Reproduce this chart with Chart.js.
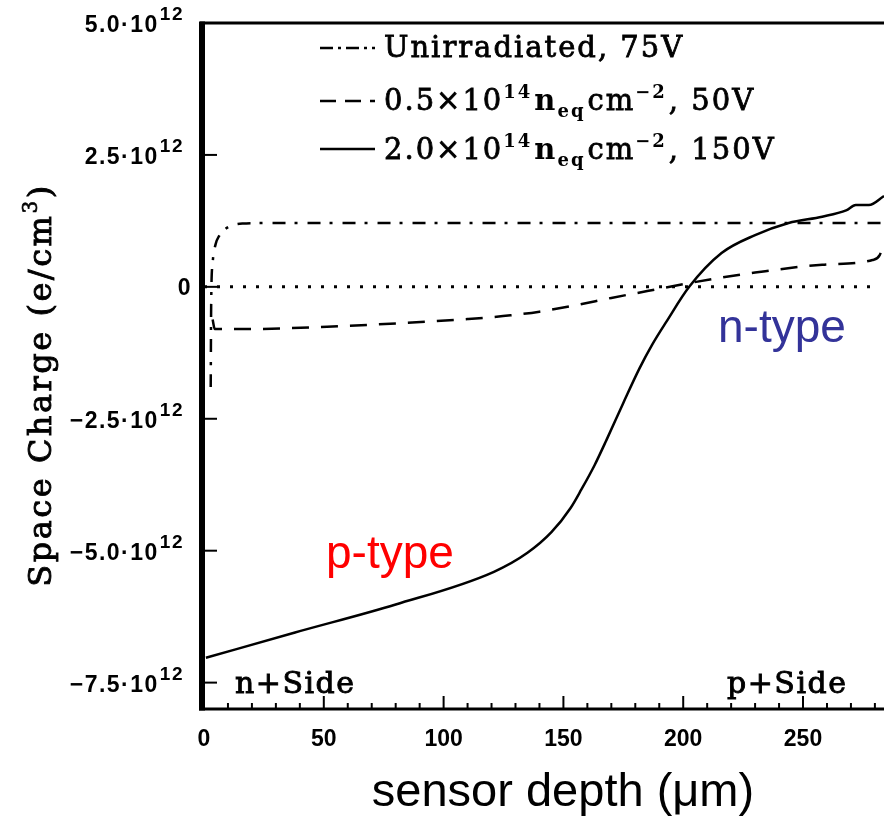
<!DOCTYPE html>
<html>
<head>
<meta charset="utf-8">
<script src="https://cdn.jsdelivr.net/npm/chart.js@4.4.0/dist/chart.umd.min.js"></script>
<style>
html,body{margin:0;padding:0;background:#fff;}
</style>
</head>
<body>
<canvas id="spaceChart" width="884" height="820"></canvas>
<script>
// depth in um, space charge in units of 1e12 e/cm3
var unirrDepth  = [2.8, 3.0, 3.6, 4.8, 6.5, 9, 12, 16, 30, 100, 200, 283.8];
var unirrCharge = [-1.9, -0.3, 0.45, 0.8, 0.98, 1.1, 1.17, 1.2, 1.21, 1.21, 1.21, 1.21];

var lowDepth  = [3.6, 4.5, 17, 59, 93, 110, 128, 140, 155, 170, 185, 200, 215, 230, 258, 279, 282, 283.8];
var lowCharge = [-0.62, -0.8, -0.8, -0.74, -0.66, -0.61, -0.54, -0.47, -0.35, -0.21, -0.08, 0.05, 0.17, 0.27, 0.42, 0.51, 0.6, 0.85];

var highDepth  = [0.8, 38, 80, 121, 135, 145, 153, 157.5, 163, 168, 175, 181.7, 187, 193, 202.5, 216, 230, 244, 258, 268, 272, 277.5, 283.8];
var highCharge = [-7.03, -6.55, -6.02, -5.40, -5.04, -4.65, -4.19, -3.84, -3.38, -2.9, -2.2, -1.55, -1.1, -0.66, 0, 0.64, 0.98, 1.21, 1.33, 1.45, 1.55, 1.55, 1.72];

var zeroDepth  = [0, 278];
var zeroCharge = [0, 0];

var xTickVals = [0, 50, 100, 150, 200, 250];
var xMinorVals = [0,10,20,30,40,50,60,70,80,90,100,110,120,130,140,150,160,170,180,190,200,210,220,230,240,250,260,270,280];
var yTickVals = [5, 2.5, 0, -2.5, -5, -7.5];
var yTickBase = ['5.0\u00b710', '2.5\u00b710', '0', '\u22122.5\u00b710', '\u22125.0\u00b710', '\u22127.5\u00b710'];
var yTickExp  = ['12', '12', '', '12', '12', '12'];

var legendRows = [
  [{t:'Unirradiated, 75V'}],
  [{t:'0.5\u00d710'},{t:'14',sup:true},{t:'n',bold:true},{t:'eq',sub:true},{t:'cm'},{t:'\u22122',sup:true},{t:', 50V'}],
  [{t:'2.0\u00d710'},{t:'14',sup:true},{t:'n',bold:true},{t:'eq',sub:true},{t:'cm'},{t:'\u22122',sup:true},{t:', 150V'}]
];
var legendDash = [[13,5,3,5], [16,9], []];

function pts(xs, ys) {
  return xs.map(function(x, i){ return {x: x, y: ys[i]}; });
}

var serif = '"DejaVu Serif", serif';
var sans = '"Liberation Sans", Arial, sans-serif';

// fill text and thicken it a little with a thin stroke
function heavyText(ctx, t, x, y, w) {
  ctx.fillText(t, x, y);
  ctx.lineWidth = w;
  ctx.strokeText(t, x, y);
}

function drawRich(ctx, segs, x, base, size) {
  segs.forEach(function(s){
    var f, dy = 0;
    if (s.sup) { f = 'bold ' + Math.round(size*0.62) + 'px ' + serif; dy = -size*0.42; }
    else if (s.sub) { f = 'bold ' + Math.round(size*0.62) + 'px ' + serif; dy = size*0.24; }
    else if (s.bold) { f = 'bold ' + size + 'px ' + serif; }
    else { f = size + 'px ' + serif; }
    ctx.font = f;
    if (s.sup || s.sub || s.bold) ctx.fillText(s.t, x, base + dy);
    else heavyText(ctx, s.t, x, base + dy, 0.8);
    x += ctx.measureText(s.t).width + ((s.sup || s.sub) ? 2 : 0);
  });
}

var decor = {
  id: 'decor',
  afterDraw: function(chart) {
    var ctx = chart.ctx, a = chart.chartArea;
    var xs = chart.scales.x, ys = chart.scales.y;
    ctx.save();
    ctx.fillStyle = '#000';
    ctx.strokeStyle = '#000';
    // frame
    ctx.fillRect(a.left - 4, a.top - 1.5, a.right - a.left + 4, 3);
    ctx.fillRect(a.left - 5, a.top - 1.5, 6, a.bottom - a.top + 3);
    ctx.fillRect(a.left - 5, a.bottom - 1.5, a.right - a.left + 5, 3);
    // inward ticks
    ctx.lineWidth = 2;
    xMinorVals.forEach(function(v){
      var px = xs.getPixelForValue(v);
      var len = (v % 50 === 0) ? 13 : 6;
      ctx.beginPath(); ctx.moveTo(px, a.bottom); ctx.lineTo(px, a.bottom - len); ctx.stroke();
    });
    yTickVals.forEach(function(v){
      var py = ys.getPixelForValue(v);
      ctx.beginPath(); ctx.moveTo(a.left, py); ctx.lineTo(a.left + 13, py); ctx.stroke();
    });
    // y tick labels with exponent
    ctx.textBaseline = 'middle';
    yTickVals.forEach(function(v, i){
      var py = ys.getPixelForValue(v);
      ctx.letterSpacing = '1.5px';
      if (yTickExp[i] === '') {
        ctx.font = 'bold 23px ' + sans;
        ctx.textAlign = 'right';
        ctx.fillText(yTickBase[i], 192, py + 2);
        return;
      }
      ctx.font = 'bold 19px ' + sans;
      var ew = ctx.measureText(yTickExp[i]).width;
      ctx.textAlign = 'left';
      ctx.fillText(yTickExp[i], 184 - ew, py - 8);
      ctx.font = 'bold 23px ' + sans;
      ctx.textAlign = 'right';
      ctx.fillText(yTickBase[i], 183 - ew, py + 3);
    });
    ctx.letterSpacing = '0px';
    // y axis title
    ctx.save();
    ctx.translate(51, 385);
    ctx.rotate(-Math.PI / 2);
    ctx.textBaseline = 'alphabetic';
    ctx.textAlign = 'left';
    ctx.letterSpacing = '2.5px';
    var t1 = 'Space Charge (e/cm', t3 = ')';
    ctx.font = '20px ' + serif;
    var w2 = ctx.measureText('3').width;
    ctx.font = '32px ' + serif;
    var w1 = ctx.measureText(t1).width, w3 = ctx.measureText(t3).width;
    var sx = -(w1 + w2 + w3) / 2;
    heavyText(ctx, t1, sx, 0, 0.9);
    ctx.font = '20px ' + serif;
    heavyText(ctx, '3', sx + w1, -14, 0.7);
    ctx.font = '32px ' + serif;
    heavyText(ctx, t3, sx + w1 + w2, 0, 0.9);
    ctx.restore();
    // legend
    var rowY = [48, 101, 149], rowBase = [57, 110, 159];
    ctx.textAlign = 'left';
    ctx.textBaseline = 'alphabetic';
    legendRows.forEach(function(segs, i){
      ctx.lineWidth = 2.5;
      ctx.setLineDash(legendDash[i]);
      ctx.beginPath(); ctx.moveTo(320, rowY[i]); ctx.lineTo(375, rowY[i]); ctx.stroke();
      ctx.setLineDash([]);
      ctx.letterSpacing = '2px';
      drawRich(ctx, segs, 384, rowBase[i], 29);
    });
    // side labels
    ctx.letterSpacing = '1.5px';
    ctx.font = '30px ' + serif;
    heavyText(ctx, 'n+Side', 235, 693, 0.9);
    heavyText(ctx, 'p+Side', 727, 693, 0.9);
    ctx.letterSpacing = '0px';
    // region labels
    ctx.font = '46px ' + sans;
    ctx.fillStyle = '#333399';
    ctx.fillText('n-type', 718, 342);
    ctx.fillStyle = '#ff0000';
    ctx.fillText('p-type', 326, 568);
    // x axis title
    ctx.fillStyle = '#000';
    ctx.textAlign = 'center';
    ctx.font = '47px ' + sans;
    ctx.fillText('sensor depth (\u03bcm)', 563, 806);
    ctx.restore();
  }
};

var spreadCanvas = document.getElementById('spaceChart');
var lineChart = new Chart(spreadCanvas, {
  type: 'line',
  data: {
    datasets: [{
      label: 'Unirradiated, 75V',
      data: pts(unirrDepth, unirrCharge),
      borderColor: '#000',
      borderWidth: 2.5,
      borderDash: [13, 9, 3, 10],
      cubicInterpolationMode: 'monotone'
    }, {
      label: '0.5e14, 50V',
      data: pts(lowDepth, lowCharge),
      borderColor: '#000',
      borderWidth: 2.5,
      borderDash: [17, 12],
      cubicInterpolationMode: 'monotone'
    }, {
      label: '2.0e14, 150V',
      data: pts(highDepth, highCharge),
      borderColor: '#000',
      borderWidth: 2.5,
      cubicInterpolationMode: 'monotone'
    }, {
      label: 'zero',
      data: pts(zeroDepth, zeroCharge),
      borderColor: '#000',
      borderWidth: 3,
      borderDash: [3, 10]
    }]
  },
  options: {
    responsive: false,
    animation: false,
    events: [],
    elements: { point: { radius: 0 } },
    layout: { padding: { top: 23, right: 0, left: 0, bottom: 0 } },
    plugins: { legend: { display: false }, tooltip: { enabled: false } },
    scales: {
      x: {
        type: 'linear',
        min: 0,
        max: 283.8,
        grid: { display: false },
        border: { display: false },
        afterBuildTicks: function(scale){ scale.ticks = xTickVals.map(function(v){ return {value: v}; }); },
        afterFit: function(scale){ scale.height = 111; },
        ticks: {
          color: '#000',
          padding: 9,
          maxRotation: 0,
          font: { family: 'Liberation Sans', size: 23, weight: 'bold' }
        }
      },
      y: {
        type: 'linear',
        min: -8,
        max: 5,
        grid: { display: false },
        border: { display: false },
        ticks: { display: false },
        afterFit: function(scale){ scale.width = 204; }
      }
    }
  },
  plugins: [decor]
});
</script>
</body>
</html>
